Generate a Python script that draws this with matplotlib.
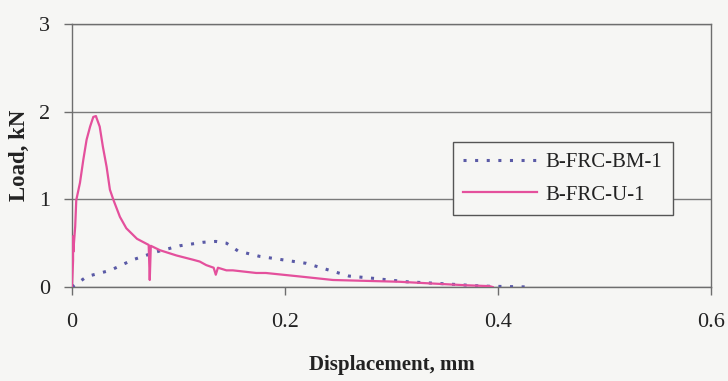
import matplotlib
matplotlib.use("Agg")
import matplotlib.pyplot as plt

# B-FRC-U-1 load-displacement record
u_disp = [0.0, 0.001, 0.001, 0.0012, 0.003, 0.004, 0.0075, 0.0106, 0.0137, 0.017,
          0.020, 0.0225, 0.023, 0.026, 0.029, 0.0325, 0.0356, 0.039, 0.045, 0.051,
          0.061, 0.072, 0.073, 0.074, 0.0825, 0.098, 0.114, 0.120, 0.126, 0.133,
          0.135, 0.137, 0.145, 0.151, 0.173, 0.182, 0.214, 0.245, 0.276, 0.307,
          0.338, 0.370, 0.392, 0.395]
u_load = [0.0, 0.30, 0.58, 0.40, 0.69, 0.99, 1.19, 1.45, 1.68, 1.83,
          1.94, 1.95, 1.93, 1.83, 1.60, 1.37, 1.11, 0.99, 0.80, 0.67,
          0.55, 0.48, 0.08, 0.47, 0.42, 0.36, 0.31, 0.29, 0.25, 0.22,
          0.14, 0.22, 0.19, 0.19, 0.16, 0.16, 0.12, 0.08, 0.07, 0.06,
          0.04, 0.02, 0.01, 0.0]

# B-FRC-BM-1 load-displacement record
bm_disp = [0.0, 0.014, 0.036, 0.057, 0.079, 0.101, 0.123, 0.135, 0.145, 0.156,
           0.176, 0.198, 0.220, 0.242, 0.260, 0.282, 0.314, 0.345, 0.386, 0.432]
bm_load = [0.0, 0.12, 0.19, 0.31, 0.40, 0.47, 0.51, 0.52, 0.50, 0.41,
           0.35, 0.31, 0.27, 0.19, 0.125, 0.10, 0.06, 0.04, 0.01, 0.0]

x_ticks = [0, 0.2, 0.4, 0.6]
x_tick_labels = ["0", "0.2", "0.4", "0.6"]
y_ticks = [0, 1, 2, 3]

plt.rcParams["font.family"] = ["Liberation Serif", "DejaVu Serif"]

fig = plt.figure(figsize=(7.28, 3.81), dpi=100, facecolor="#f6f6f4")
ax = fig.add_axes([0.0989, 0.2467, 0.8778, 0.6903])
ax.set_facecolor("#f6f6f4")

ax.plot(bm_disp, bm_load, color="#5a5aa6", lw=2.2, linestyle=(0, (1.0, 2.8)),
        label="B-FRC-BM-1", zorder=3)
ax.plot(u_disp, u_load, color="#e4509c", lw=1.6, label="B-FRC-U-1", zorder=4)

ax.set_xlim(0, 0.6)
ax.set_ylim(0, 3)
ax.set_xticks(x_ticks)
ax.set_xticklabels(x_tick_labels)
ax.set_yticks(y_ticks)

ax.grid(axis="y", color="#7a7a7a", lw=1.0)
ax.set_axisbelow(True)
for s in ax.spines.values():
    s.set_color("#6e6e6e")
    s.set_linewidth(1.0)

ax.tick_params(axis="both", direction="out", length=6, width=1.0,
               color="#6e6e6e", labelsize=16, labelcolor="#222222")
ax.tick_params(axis="x", pad=13)
ax.tick_params(axis="y", pad=10)

ax.set_xlabel("Displacement, mm", fontsize=15, fontweight="bold",
              labelpad=16, color="#222222")
ax.set_ylabel("Load, kN", fontsize=16.5, fontweight="bold",
              labelpad=6, color="#222222")

leg = ax.legend(loc="upper left", bbox_to_anchor=(0.596, 0.551), fontsize=15,
                frameon=True, fancybox=False, handlelength=3.55,
                borderpad=0.5, labelspacing=0.62, handletextpad=0.4,
                borderaxespad=0.0)
leg.get_frame().set_edgecolor("#555555")
leg.get_frame().set_facecolor("#f6f6f4")
leg.get_frame().set_linewidth(1.0)
leg.get_frame().set_alpha(1.0)
for t in leg.get_texts():
    t.set_color("#222222")

fig.savefig("out.png", dpi=100, facecolor=fig.get_facecolor())
